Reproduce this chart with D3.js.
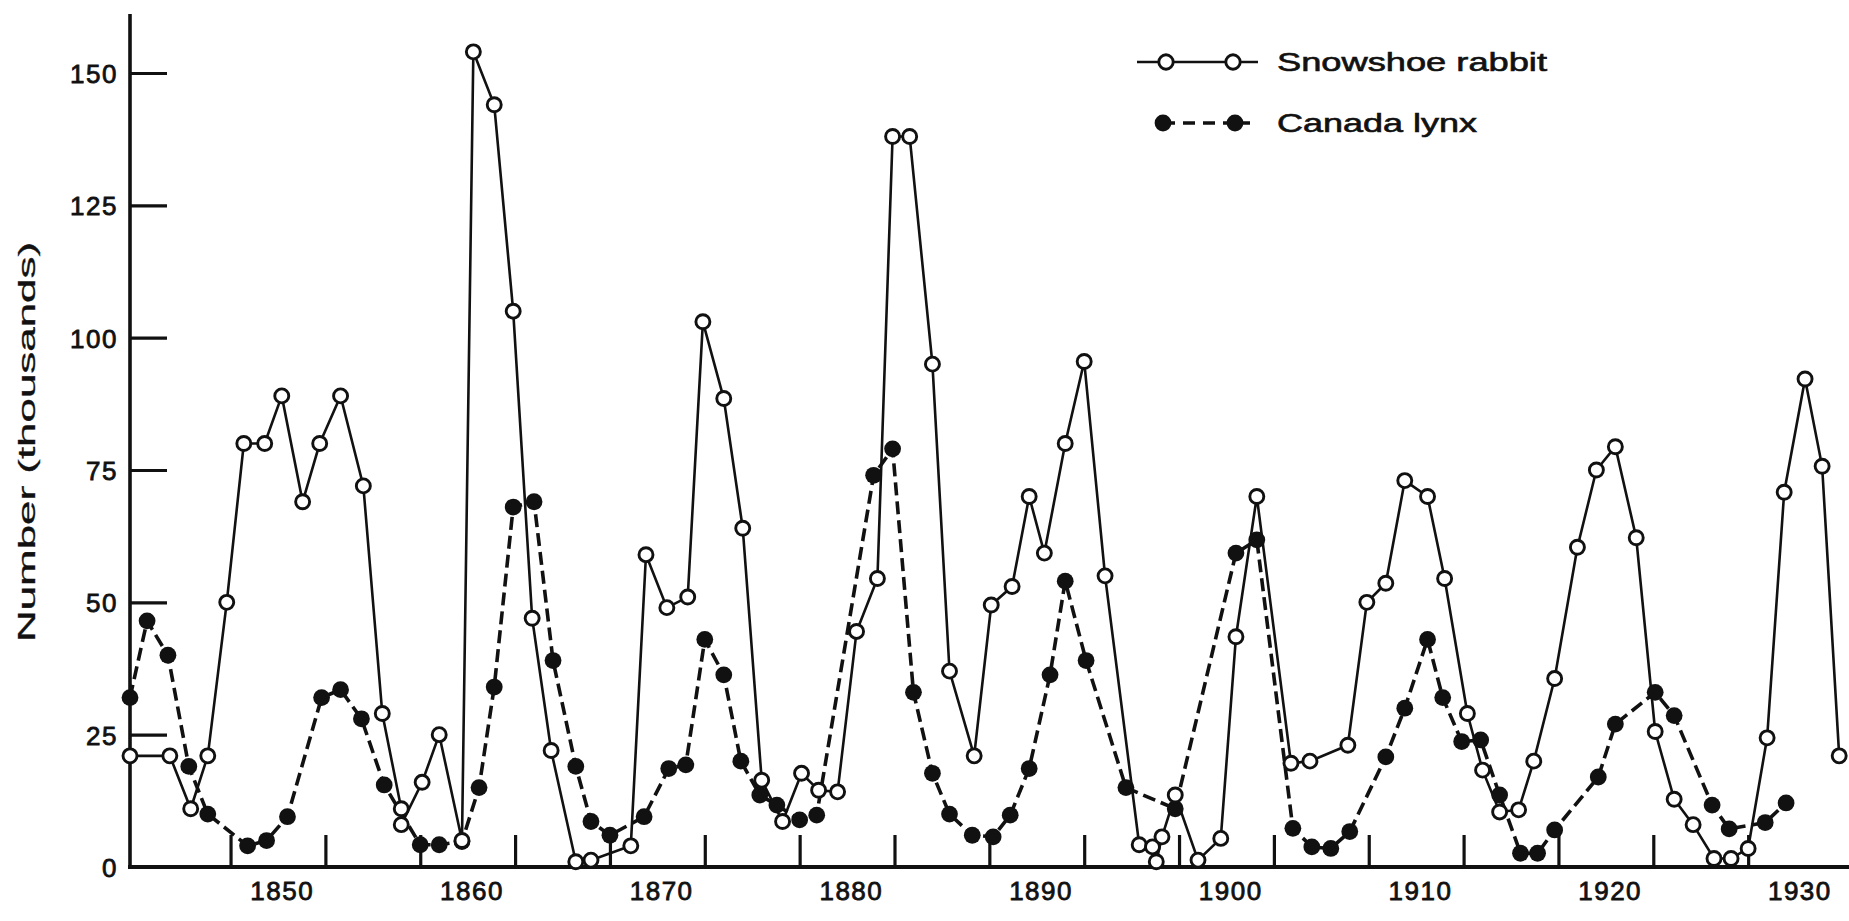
<!DOCTYPE html>
<html><head><meta charset="utf-8">
<script src="https://cdn.jsdelivr.net/npm/d3@7"></script>
<style>html,body{margin:0;padding:0;background:#fff;} svg{display:block;}</style>
</head><body>
<svg id="chart" width="1849" height="921"></svg>
<script>
// ---- data (years as drawn, thousands of pelts) ----
const rabbitYears = [1842.0, 1844.1, 1845.2, 1846.1, 1847.1, 1848.0, 1849.1, 1850.0, 1851.1, 1852.0, 1853.1, 1854.3, 1855.3, 1856.3, 1856.3, 1857.4, 1858.3, 1859.5, 1860.1, 1861.2, 1862.2, 1863.2, 1864.2, 1865.5, 1866.3, 1868.4, 1869.2, 1870.3, 1871.4, 1872.2, 1873.3, 1874.3, 1875.3, 1876.4, 1877.4, 1878.3, 1879.3, 1880.3, 1881.4, 1882.2, 1883.1, 1884.3, 1885.2, 1886.5, 1887.4, 1888.5, 1889.4, 1890.2, 1891.3, 1892.3, 1893.4, 1895.2, 1895.9, 1896.1, 1896.4, 1897.1, 1898.3, 1899.5, 1900.3, 1901.4, 1903.2, 1904.2, 1906.2, 1907.2, 1908.2, 1909.2, 1910.4, 1911.3, 1912.5, 1913.3, 1914.2, 1915.2, 1916.0, 1917.1, 1918.3, 1919.3, 1920.3, 1921.4, 1922.4, 1923.4, 1924.4, 1925.5, 1926.4, 1927.3, 1928.3, 1929.2, 1930.3, 1931.2, 1932.1];
const rabbitValues = [21, 21, 11, 21, 50, 80, 80, 89, 69, 80, 89, 72, 29, 11, 8, 16, 25, 5, 154, 144, 105, 47, 22, 1, 1.3, 4, 59, 49, 51, 103, 88.5, 64, 16.4, 8.6, 17.7, 14.5, 14.2, 44.5, 54.5, 138, 138, 95, 37, 21, 49.5, 53, 70, 59.3, 80, 95.5, 55, 4.2, 3.8, 1, 5.7, 13.6, 1.3, 5.4, 43.5, 70, 19.6, 20, 23, 50, 53.6, 73, 70, 54.5, 29, 18.3, 10.4, 10.8, 20, 35.6, 60.4, 75, 79.4, 62.2, 25.6, 12.8, 8, 1.6, 1.6, 3.5, 24.4, 70.8, 92.2, 75.7, 21];

const lynxYears = [1842.0, 1842.9, 1844.0, 1845.1, 1846.1, 1848.2, 1849.2, 1850.3, 1852.1, 1853.1, 1854.2, 1855.4, 1857.3, 1858.3, 1859.5, 1860.4, 1861.2, 1862.2, 1863.3, 1864.3, 1865.5, 1866.3, 1867.3, 1869.1, 1870.4, 1871.3, 1872.3, 1873.3, 1874.2, 1875.2, 1876.1, 1877.3, 1878.2, 1881.2, 1882.2, 1883.3, 1884.3, 1885.2, 1886.4, 1887.5, 1888.4, 1889.4, 1890.5, 1891.3, 1892.4, 1894.5, 1897.1, 1900.3, 1901.4, 1903.3, 1904.3, 1905.3, 1906.3, 1908.2, 1909.2, 1910.4, 1911.2, 1912.2, 1913.2, 1914.2, 1915.3, 1916.2, 1917.1, 1919.4, 1920.3, 1922.4, 1923.4, 1925.4, 1926.3, 1928.2, 1929.3];
const lynxValues = [32, 46.5, 40, 19, 10, 4, 5, 9.5, 32, 33.5, 28, 15.5, 4.2, 4.2, 4.8, 15, 34, 68, 69, 39, 19, 8.6, 6, 9.5, 18.6, 19.3, 43, 36.3, 20, 13.6, 11.7, 8.9, 9.8, 74, 79, 33, 17.7, 10, 6, 5.7, 9.8, 18.6, 36.3, 54, 39, 15, 11, 59.3, 61.8, 7.3, 3.8, 3.5, 6.7, 20.8, 30, 43, 32, 23.7, 24, 13.6, 2.6, 2.6, 7, 17, 27, 33, 28.6, 11.7, 7.2, 8.4, 12.1];

const yTickValues = [0, 25, 50, 75, 100, 125, 150];
const xLabelYears = [1850, 1860, 1870, 1880, 1890, 1900, 1910, 1920, 1930];
const xTickYears = [1847.3, 1852.3, 1857.3, 1862.3, 1867.3, 1872.3, 1877.3, 1882.3, 1887.3, 1892.3, 1897.3, 1902.3, 1907.3, 1912.3, 1917.3, 1922.3, 1927.3];
const seriesNames = ["Snowshoe rabbit", "Canada lynx"];
const yAxisTitle = "Number (thousands)";

// ---- drawing ----
const INK = "#111";
const FONT = "'Liberation Sans', Arial, Helvetica, sans-serif";
const svg = d3.select("#chart");
svg.append("rect").attr("width", 1849).attr("height", 921).attr("fill", "#fff");

const x = d3.scaleLinear().domain([1842, 1932]).range([130, 1837.3]);
const y = d3.scaleLinear().domain([0, 150]).range([867, 73]);

const rabbit = rabbitYears.map((d, i) => ({year: d, value: rabbitValues[i]}));
const lynx = lynxYears.map((d, i) => ({year: d, value: lynxValues[i]}));

// y axis (inward ticks + labels)
const yAxisG = svg.append("g").attr("transform", "translate(130,0)")
  .call(d3.axisLeft(y).tickValues(yTickValues).tickSizeInner(-37).tickSizeOuter(0).tickPadding(12));
yAxisG.select(".domain").remove();
yAxisG.selectAll(".tick line").attr("stroke", INK).attr("stroke-width", 3.2);
yAxisG.selectAll(".tick text").attr("fill", INK).attr("stroke", INK).attr("stroke-width", 0.8)
  .style("font-family", FONT).style("font-size", "26px").style("letter-spacing", "1.5px")
  .attr("dy", "0.36em");

// x axis ticks (upward, offset from the labels as in the original)
const xTickG = svg.append("g").attr("transform", "translate(0,867)")
  .call(d3.axisBottom(x).tickValues(xTickYears).tickSizeInner(-32).tickSizeOuter(0).tickFormat(""));
xTickG.select(".domain").remove();
xTickG.selectAll(".tick line").attr("stroke", INK).attr("stroke-width", 3.2);

const xLabG = svg.append("g").attr("transform", "translate(0,867)")
  .call(d3.axisBottom(x).tickValues(xLabelYears).tickSize(0).tickPadding(15).tickFormat(d3.format("d")));
xLabG.select(".domain").remove();
xLabG.selectAll(".tick text").attr("fill", INK).attr("stroke", INK).attr("stroke-width", 0.8)
  .style("font-family", FONT).style("font-size", "26px").style("letter-spacing", "1.5px");

// axis lines
svg.append("line").attr("x1", 130).attr("x2", 130).attr("y1", 14).attr("y2", 868)
  .attr("stroke", INK).attr("stroke-width", 3.6);
svg.append("line").attr("x1", 128).attr("x2", 1849).attr("y1", 867).attr("y2", 867)
  .attr("stroke", INK).attr("stroke-width", 4);

// y title
svg.append("text").attr("transform", "translate(35,442) rotate(-90)")
  .attr("text-anchor", "middle").attr("fill", INK).attr("stroke", INK).attr("stroke-width", 0.3)
  .attr("textLength", 400).attr("lengthAdjust", "spacingAndGlyphs")
  .style("font-family", FONT).style("font-size", "24px")
  .text(yAxisTitle);

// lines
const line = d3.line().x(d => x(d.year)).y(d => y(d.value));
svg.append("path").datum(lynx).attr("d", line).attr("fill", "none")
  .attr("stroke", INK).attr("stroke-width", 3.6).attr("stroke-dasharray", "13,6");
svg.append("path").datum(rabbit).attr("d", line).attr("fill", "none")
  .attr("stroke", INK).attr("stroke-width", 2.6);

// markers
svg.append("g").selectAll("circle").data(lynx).join("circle")
  .attr("cx", d => x(d.year)).attr("cy", d => y(d.value)).attr("r", 8.4).attr("fill", INK);
svg.append("g").selectAll("circle").data(rabbit).join("circle")
  .attr("cx", d => x(d.year)).attr("cy", d => y(d.value)).attr("r", 7)
  .attr("fill", "#fff").attr("stroke", INK).attr("stroke-width", 2.9);

// legend
const legendY = [62, 123];
const lg = svg.append("g");
lg.append("line").attr("x1", 1137).attr("x2", 1258).attr("y1", legendY[0]).attr("y2", legendY[0])
  .attr("stroke", INK).attr("stroke-width", 2.6);
[1166, 1233].forEach(cx => lg.append("circle").attr("cx", cx).attr("cy", legendY[0]).attr("r", 7.2)
  .attr("fill", "#fff").attr("stroke", INK).attr("stroke-width", 2.9));
lg.append("line").attr("x1", 1163).attr("x2", 1250).attr("y1", legendY[1]).attr("y2", legendY[1])
  .attr("stroke", INK).attr("stroke-width", 3.6).attr("stroke-dasharray", "12,8");
[1163, 1235].forEach(cx => lg.append("circle").attr("cx", cx).attr("cy", legendY[1]).attr("r", 8.4).attr("fill", INK));
seriesNames.forEach((name, i) => {
  lg.append("text").attr("x", 1277).attr("y", legendY[i]).attr("dy", "0.36em")
    .attr("fill", INK).attr("stroke", INK).attr("stroke-width", 0.6)
    .attr("textLength", i === 0 ? 270 : 200).attr("lengthAdjust", "spacingAndGlyphs")
    .style("font-family", FONT).style("font-size", "25px").text(name);
});
</script>
</body></html>
